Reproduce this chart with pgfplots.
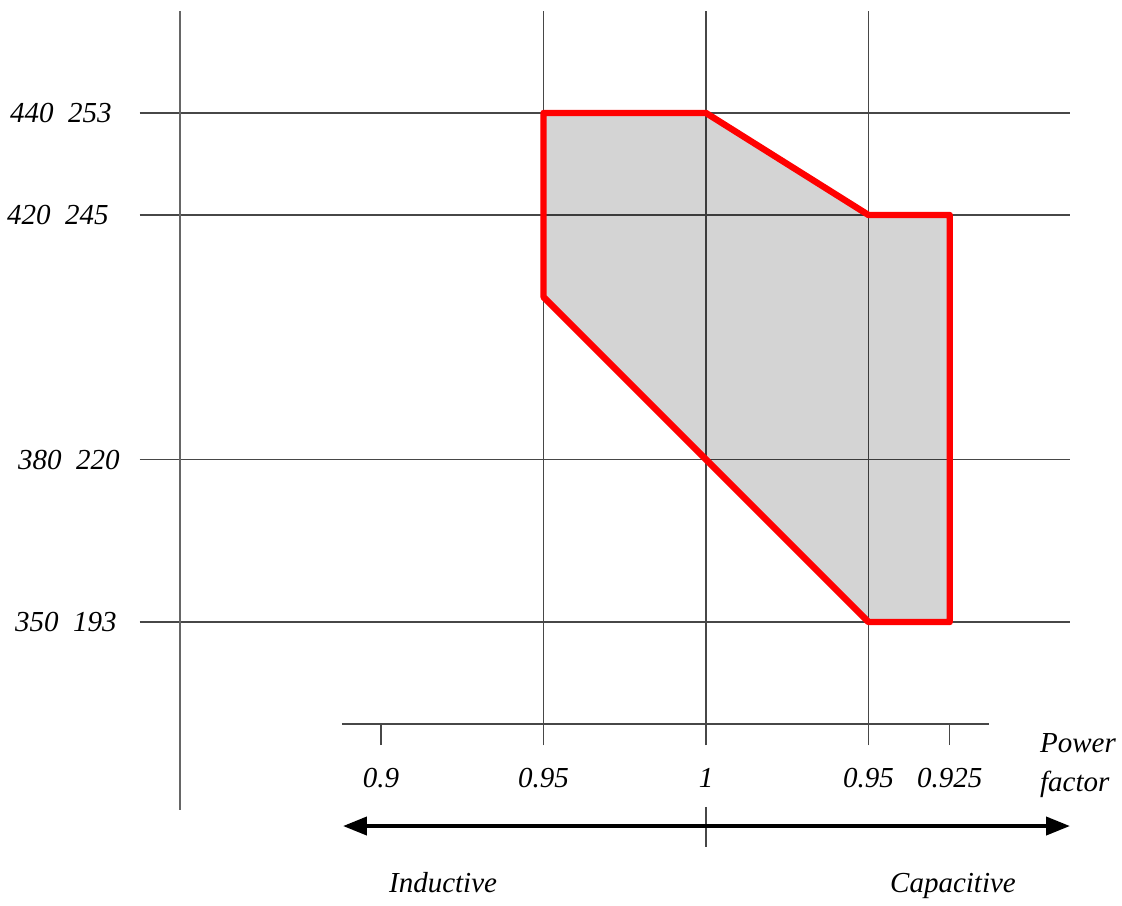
\documentclass[border=0pt]{standalone}
\usepackage{fontspec}
\setmainfont{Liberation Serif}
\usepackage{pgfplots}
\pgfplotsset{compat=1.18}
\usetikzlibrary{arrows.meta}

\newcommand{\lblfont}{\fontsize{14.5bp}{19.5bp}\selectfont\itshape}

\begin{document}
\begin{tikzpicture}
\begin{axis}[
  scale only axis, width=465bp, height=367bp,
  xmin=-3.4831, xmax=2.24, ymin=-0.7569, ymax=3.76,
  clip=false,
  axis line style={draw=none},
  tick pos=left,
  xtick={-1,0,1}, xticklabels={0.95,1,0.95},
  extra x ticks={-2,1.5}, extra x tick labels={0.9,0.925},
  extra x tick style={grid=none},
  ytick={0,1,2.5046,3.1323},
  yticklabels={350\enspace 193\kern-2.5bp, 380\enspace 220\kern-4bp, 420\enspace 245\kern1.5bp, 440\enspace 253\kern0bp},
  xmajorgrids, ymajorgrids,
  major grid style={black!72, line width=0.6bp},
  tick align=inside, major tick length=10.5bp,
  tick style={black!72, line width=0.6bp},
  xticklabel style={anchor=center, inner sep=0pt, yshift=-16.5bp},
  yticklabel style={anchor=east, inner sep=0pt, xshift=-14bp},
  tick label style={font=\lblfont},
]
\addplot[draw=red, line width=3.2bp, fill=black, fill opacity=0.17, line join=round]
  coordinates {(-1,3.1323) (0,3.1323) (1,2.5046) (1.5,2.5046) (1.5,0) (1,0) (0,1) (-1,2)} -- cycle;

\draw[black!60, line width=0.8bp] (axis cs:-3.237,3.76) -- (axis cs:-3.237,-1.157);
\draw[black!72, line width=0.6bp] (axis cs:-2.24,-0.6277) -- (axis cs:1.7415,-0.6277);
\draw[black!72, line width=0.6bp] (axis cs:0,-1.138) -- (axis cs:0,-1.385);
\draw[line width=2bp, {Triangle[length=12bp,width=9bp]}-{Triangle[length=12bp,width=9bp]}]
  (axis cs:-2.234,-1.2554) -- (axis cs:2.24,-1.2554);
\node[font=\lblfont] at (axis cs:-1.618,-1.606) {Inductive};
\node[font=\lblfont] at (axis cs:1.52,-1.624) {Capacitive};
\node[font=\lblfont, align=left, inner sep=0pt] at (axis cs:2.289,-0.886) {Power\\factor};
\path (axis cs:-4.3446,-1.7169) rectangle (axis cs:2.56,3.8277);
\end{axis}
\end{tikzpicture}
\end{document}
